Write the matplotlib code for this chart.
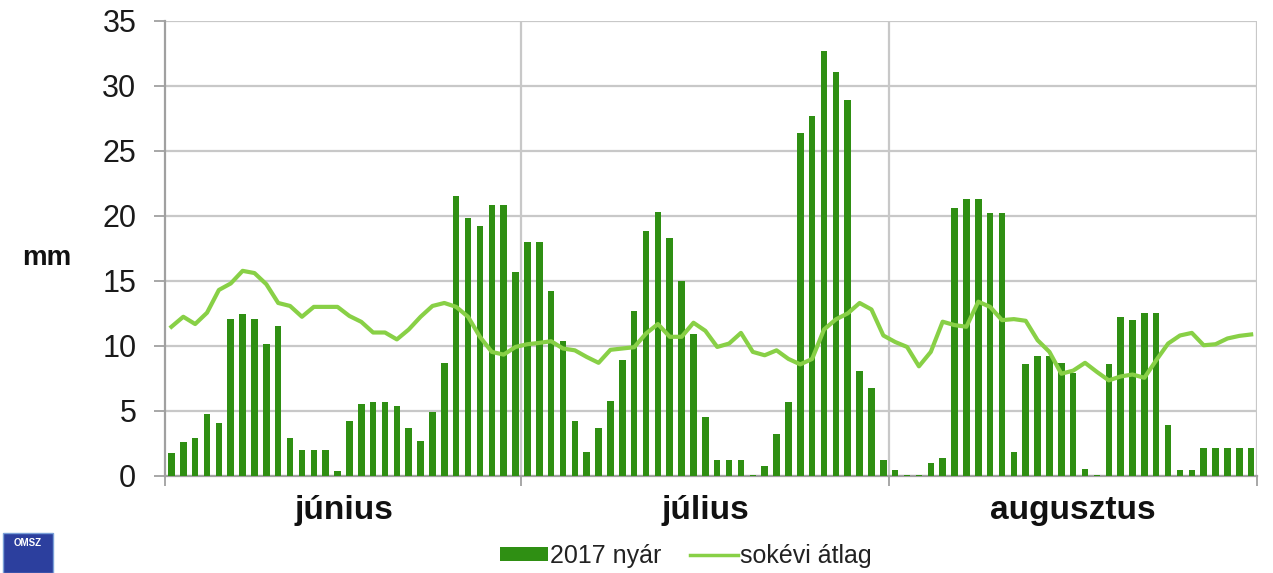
import matplotlib
matplotlib.use("Agg")
import matplotlib.pyplot as plt
import numpy as np
from matplotlib.patches import Rectangle
from matplotlib.lines import Line2D
from matplotlib.patches import Patch

plt.rcParams['font.family'] = ['Liberation Sans', 'DejaVu Sans']

months = ["június", "július", "augusztus"]
month_days = [30, 31, 31]
yticks = [0, 5, 10, 15, 20, 25, 30, 35]

rain_2017 = [
    # June
    1.75, 2.6, 2.9, 4.8, 4.1, 12.1, 12.45, 12.1, 10.15, 11.5,
    2.9, 2.0, 2.0, 2.0, 0.4, 4.2, 5.5, 5.7, 5.7, 5.4,
    3.7, 2.7, 4.9, 8.7, 21.5, 19.8, 19.2, 20.8, 20.8, 15.7,
    # July
    18.0, 18.0, 14.2, 10.4, 4.2, 1.85, 3.7, 5.8, 8.9, 12.7,
    18.8, 20.3, 18.3, 15.0, 10.9, 4.5, 1.2, 1.2, 1.2, 0.1,
    0.8, 3.2, 5.7, 26.4, 27.7, 32.7, 31.05, 28.9, 8.1, 6.75, 1.2,
    # August
    0.45, 0.1, 0.1, 1.0, 1.4, 20.6, 21.3, 21.3, 20.2, 20.2,
    1.85, 8.6, 9.2, 9.2, 8.7, 7.9, 0.55, 0.1, 8.6, 12.2,
    12.0, 12.5, 12.5, 3.95, 0.45, 0.45, 2.15, 2.15, 2.15, 2.15, 2.15,
]

longterm_avg = [
    # June
    11.47, 12.24, 11.68, 12.55, 14.3, 14.8, 15.77, 15.6, 14.74, 13.3,
    13.07, 12.24, 13.0, 13.0, 13.0, 12.3, 11.85, 11.03, 11.03, 10.5,
    11.26, 12.24, 13.07, 13.3, 13.0, 12.24, 10.7, 9.54, 9.33, 9.92,
    # July
    10.13, 10.23, 10.36, 9.8, 9.66, 9.15, 8.7, 9.7, 9.8, 9.9,
    10.95, 11.68, 10.7, 10.7, 11.78, 11.16, 9.92, 10.18, 11.0, 9.54,
    9.28, 9.66, 9.0, 8.58, 9.0, 11.26, 12.04, 12.5, 13.3, 12.8, 10.8,
    # August
    10.3, 9.92, 8.43, 9.54, 11.86, 11.6, 11.47, 13.4, 13.0, 11.98,
    12.06, 11.93, 10.44, 9.54, 7.86, 8.1, 8.7, 8.0, 7.35, 7.65,
    7.8, 7.55, 8.9, 10.18, 10.8, 11.0, 10.05, 10.13, 10.57, 10.77, 10.88,
]

bar_color = "#2f8f13"
line_color = "#88d046"
grid_color = "#c8c8c8"
spine_color = "#a0a0a0"

fig = plt.figure(figsize=(12.73, 5.73), dpi=100)
ax = fig.add_axes([0.130, 0.1693, 0.8575, 0.7946])

n = len(rain_2017)
x = np.arange(n) + 0.5
ax.bar(x, rain_2017, width=0.55, color=bar_color, zorder=3, label="2017 nyár")
ax.plot(x, longterm_avg, color=line_color, lw=3.0, zorder=4, label="sokévi átlag")

ax.set_xlim(0, n)
ax.set_ylim(0, 35)
ax.set_yticks(yticks)
ax.set_yticklabels([str(v) for v in yticks], fontsize=22, color="#1a1a1a")
ax.tick_params(axis='y', direction='out', length=8, width=1.3, color=spine_color, pad=13)

bounds = np.concatenate([[0], np.cumsum(month_days)])
ax.set_xticks(bounds)
ax.set_xticklabels([""] * len(bounds))
ax.tick_params(axis='x', which='major', direction='out', length=7, width=1.3, color=spine_color)
centers = (bounds[:-1] + bounds[1:]) / 2
ax.set_xticks(centers, minor=True)
ax.set_xticklabels(months, minor=True, fontsize=24, fontweight='bold', color="#111111")
ax.tick_params(axis='x', which='minor', length=0, pad=14)

ax.grid(axis='y', color=grid_color, lw=1.6, zorder=0)
for b in bounds[1:]:
    ax.axvline(b, color=grid_color, lw=1.6, zorder=0)

ax.spines['top'].set_visible(False)
ax.spines['right'].set_visible(False)
for s in ['left', 'bottom']:
    ax.spines[s].set_color(spine_color)
    ax.spines[s].set_linewidth(1.6)

fig.text(47 / 1273, 1 - 258 / 573, "mm", fontsize=20, fontweight='bold',
         ha='center', va='center', color="#111111")

handles = [Patch(facecolor=bar_color, edgecolor='none'),
           Line2D([0], [0], color=line_color, lw=2.5)]
leg = fig.legend(handles, ["2017 nyár", "sokévi átlag"], loc='center',
                 bbox_to_anchor=(686 / 1273, 1 - 556 / 573), ncol=2, frameon=False,
                 fontsize=18, handlelength=1.9, handleheight=0.45, handletextpad=0.1,
                 columnspacing=1.15)
for t in leg.get_texts():
    t.set_color("#222222")

# OMSZ logo block
fig.patches.append(Rectangle((3 / 1273, 0), 50 / 1273, 40 / 573, transform=fig.transFigure,
                             facecolor="#2c3f9e", edgecolor="#7aa0d8", lw=1))
fig.text(28 / 1273, 1 - 543 / 573, "OMSZ", fontsize=7, fontweight='bold', color="white",
         ha='center', va='center')

fig.savefig("out.png", dpi=100)
